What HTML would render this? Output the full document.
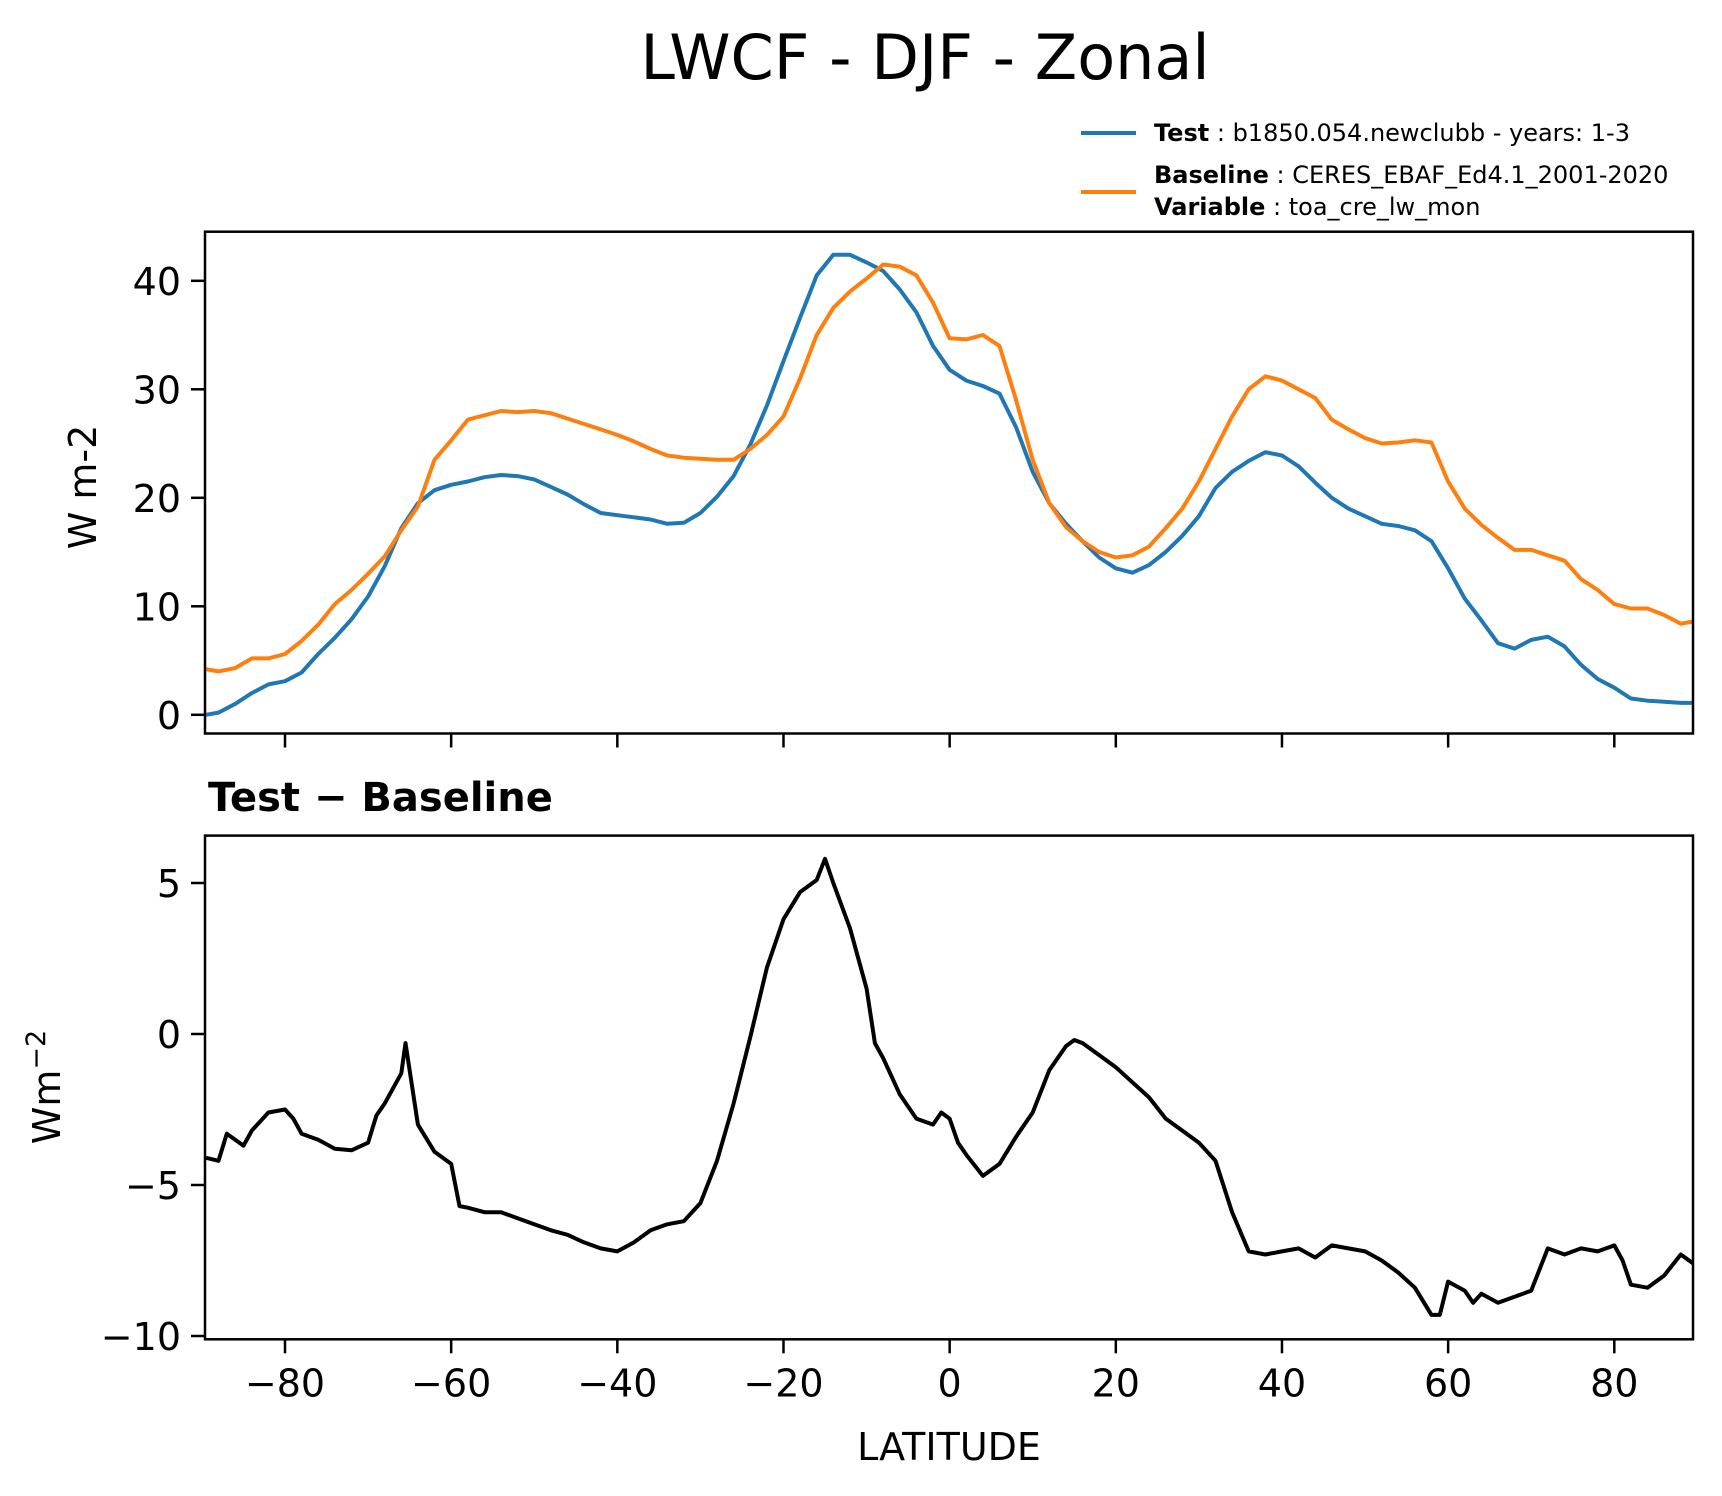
<!DOCTYPE html>
<html><head><meta charset="utf-8"><style>
html,body{margin:0;padding:0;background:#fff;}
svg{display:block;font-family:"DejaVu Sans","Liberation Sans",sans-serif;}
</style></head><body>
<svg id="fig" width="1722" height="1496" viewBox="0 0 1722 1496" xmlns="http://www.w3.org/2000/svg">
<rect width="1722" height="1496" fill="#fff"/>
<text x="925" y="79" font-size="62" text-anchor="middle">LWCF - DJF - Zonal</text>
<g>
<line x1="1081" y1="133" x2="1136" y2="133" stroke="#1f77b4" stroke-width="4"/>
<text x="1154" y="141" font-size="24"><tspan font-weight="bold">Test</tspan> : b1850.054.newclubb - years: 1-3</text>
<line x1="1081" y1="192" x2="1136" y2="192" stroke="#ff7f0e" stroke-width="4"/>
<text x="1154" y="183" font-size="24"><tspan font-weight="bold">Baseline</tspan> : CERES_EBAF_Ed4.1_2001-2020</text>
<text x="1154" y="215" font-size="24"><tspan font-weight="bold">Variable</tspan> : toa_cre_lw_mon</text>
</g>
<g id="top"></g>
<g id="bot"></g>
<text x="208" y="811" font-size="40" font-weight="bold">Test − Baseline</text>
<text transform="translate(96,487) rotate(-90)" font-size="38" text-anchor="middle">W m-2</text>
<text transform="translate(60,1087) rotate(-90)" font-size="38" text-anchor="middle">Wm<tspan dy="-15" font-size="27">−2</tspan></text>
<text x="949" y="1460" font-size="38" text-anchor="middle">LATITUDE</text>
</svg>
<script>
const latTop = [-89.5,-88,-86,-84,-82,-80,-78,-76,-74,-72,-70,-68,-66,-64,-62,-60,-58,-56,-54,-52,-50,-48,-46,-44,-42,-40,-38,-36,-34,-32,-30,-28,-26,-24,-22,-20,-18,-16,-14,-12,-10,-8,-6,-4,-2,0,2,4,6,8,10,12,14,16,18,20,22,24,26,28,30,32,34,36,38,40,42,44,46,48,50,52,54,56,58,60,62,64,66,68,70,72,74,76,78,80,82,84,86,88,89.5];
const testVals = [0,0.2,1.0,2.0,2.8,3.1,3.9,5.6,7.1,8.8,10.9,13.7,17.2,19.5,20.7,21.2,21.5,21.9,22.1,22,21.7,21,20.3,19.4,18.6,18.4,18.2,18,17.6,17.7,18.6,20.1,22,24.9,28.5,32.6,36.6,40.5,42.4,42.4,41.7,40.9,39.2,37.1,34,31.8,30.8,30.3,29.6,26.5,22.4,19.5,17.6,16,14.5,13.5,13.1,13.8,15,16.5,18.3,20.9,22.4,23.4,24.2,23.9,22.9,21.4,20,19,18.3,17.6,17.4,17,16,13.5,10.7,8.7,6.6,6.1,6.9,7.2,6.3,4.6,3.3,2.5,1.5,1.3,1.2,1.1,1.1];
const baseVals = [4.2,4.0,4.3,5.2,5.2,5.6,6.8,8.3,10.2,11.5,13,14.6,17,19.2,23.5,25.3,27.2,27.6,28,27.9,28,27.8,27.3,26.8,26.3,25.8,25.2,24.5,23.9,23.7,23.6,23.5,23.5,24.5,25.8,27.5,31,35,37.5,39,40.2,41.5,41.3,40.5,38,34.7,34.6,35,34,29,23.5,19.5,17.3,16,15,14.5,14.7,15.5,17.2,19,21.5,24.5,27.5,30,31.2,30.8,30,29.2,27.2,26.3,25.5,25,25.1,25.3,25.1,21.5,19,17.5,16.3,15.2,15.2,14.7,14.2,12.5,11.5,10.2,9.8,9.8,9.2,8.4,8.6];
const latDiff = [-89.5,-88,-87,-86,-85,-84,-82,-80,-79,-78,-76,-74,-72,-70,-69,-68,-66,-65.5,-64,-62,-60,-59,-58,-56,-54,-52,-50,-48,-46,-44,-42,-40,-38,-36,-34,-32,-30,-28,-26,-24,-22,-20,-18,-16,-15,-14,-12,-10,-9,-8,-6,-4,-2,-1,0,1,2,4,6,8,10,12,14,15,16,18,20,22,24,26,28,30,32,34,36,38,40,42,44,46,48,50,52,54,56,58,59,60,62,63,64,66,68,70,72,74,76,78,80,81,82,84,86,88,89.5];
const diffVals = [-4.1,-4.2,-3.3,-3.5,-3.7,-3.2,-2.6,-2.5,-2.8,-3.3,-3.5,-3.8,-3.85,-3.6,-2.7,-2.3,-1.3,-0.3,-3.0,-3.9,-4.3,-5.7,-5.75,-5.9,-5.9,-6.1,-6.3,-6.5,-6.65,-6.9,-7.1,-7.2,-6.9,-6.5,-6.3,-6.2,-5.6,-4.2,-2.3,-0.1,2.2,3.8,4.7,5.1,5.8,5.0,3.5,1.5,-0.3,-0.8,-2.0,-2.8,-3.0,-2.6,-2.8,-3.6,-4.0,-4.7,-4.3,-3.4,-2.6,-1.2,-0.4,-0.2,-0.3,-0.7,-1.1,-1.6,-2.1,-2.8,-3.2,-3.6,-4.2,-5.9,-7.2,-7.3,-7.2,-7.1,-7.4,-7.0,-7.1,-7.2,-7.5,-7.9,-8.4,-9.3,-9.3,-8.2,-8.5,-8.9,-8.6,-8.9,-8.7,-8.5,-7.1,-7.3,-7.1,-7.2,-7.0,-7.5,-8.3,-8.4,-8.0,-7.3,-7.6];
const xTicks = [-80,-60,-40,-20,0,20,40,60,80];
const xTickLabels = ["−80","−60","−40","−20","0","20","40","60","80"];
const topTicks = [0,10,20,30,40];
const botTicks = [-10,-5,0,5];
const botTickLabels = ["−10","−5","0","5"];

const NS = "http://www.w3.org/2000/svg";
const L = 205, R = 1693;
const xS = v => 285 + (v + 80) * (1614.3 - 285) / 160;
const yTop = v => 714.8 - v * 10.85;
const yBot = v => 1034 - v * 30.2;
function mk(tag, attrs, parent){const e=document.createElementNS(NS,tag);for(const k in attrs)e.setAttribute(k,attrs[k]);parent.appendChild(e);return e;}

function panel(g, top, bot, yF, yticks, ylabels, showXLabels, name){
  const clipId = name+"-clip";
  const cp = mk("clipPath",{id:clipId},g);
  mk("rect",{x:L,y:top,width:R-L,height:bot-top},cp);
  const lines = mk("g",{"clip-path":"url(#"+clipId+")"},g);
  yticks.forEach((t,i)=>{
    const y=yF(t);
    const tk=mk("line",{x1:L-14,x2:L,y1:y,y2:y,stroke:"#000","stroke-width":2.5},g);
    
    
    const tx=mk("text",{x:L-24,y:y+14,"font-size":38,"text-anchor":"end"},g);
    tx.textContent=ylabels[i];
    
    
  });
  xTicks.forEach((t,i)=>{
    const x=xS(t);
    const tk=mk("line",{x1:x,x2:x,y1:bot,y2:bot+14,stroke:"#000","stroke-width":2.5},g);
    
    
    if(showXLabels){
      const tx=mk("text",{x:x,y:bot+57,"font-size":38,"text-anchor":"middle"},g);
      tx.textContent=xTickLabels[i];
      
      
    }
  });
  const fr=mk("rect",{x:L,y:top,width:R-L,height:bot-top,fill:"none",stroke:"#000","stroke-width":2.5},g);
  
  
  return lines;
}
function series(parent, xs, ys, yF, color, name){
  const d = xs.map((x,i)=>(i?"L":"M")+xS(x).toFixed(1)+","+yF(ys[i]).toFixed(1)).join("");
  const p = mk("path",{d:d,fill:"none",stroke:color,"stroke-width":4,"stroke-linejoin":"round"},parent);
  
  
}
const tg = panel(document.getElementById("top"),231.7,733.5,yTop,topTicks,topTicks.map(String),false,"top-axes");
series(tg, latTop, testVals, yTop, "#1f77b4", "test-line");
series(tg, latTop, baseVals, yTop, "#ff7f0e", "baseline-line");
const bg = panel(document.getElementById("bot"),835.6,1339.3,yBot,botTicks,botTickLabels,true,"bottom-axes");
series(bg, latDiff, diffVals, yBot, "#000", "difference-line");
</script>
</body></html>
